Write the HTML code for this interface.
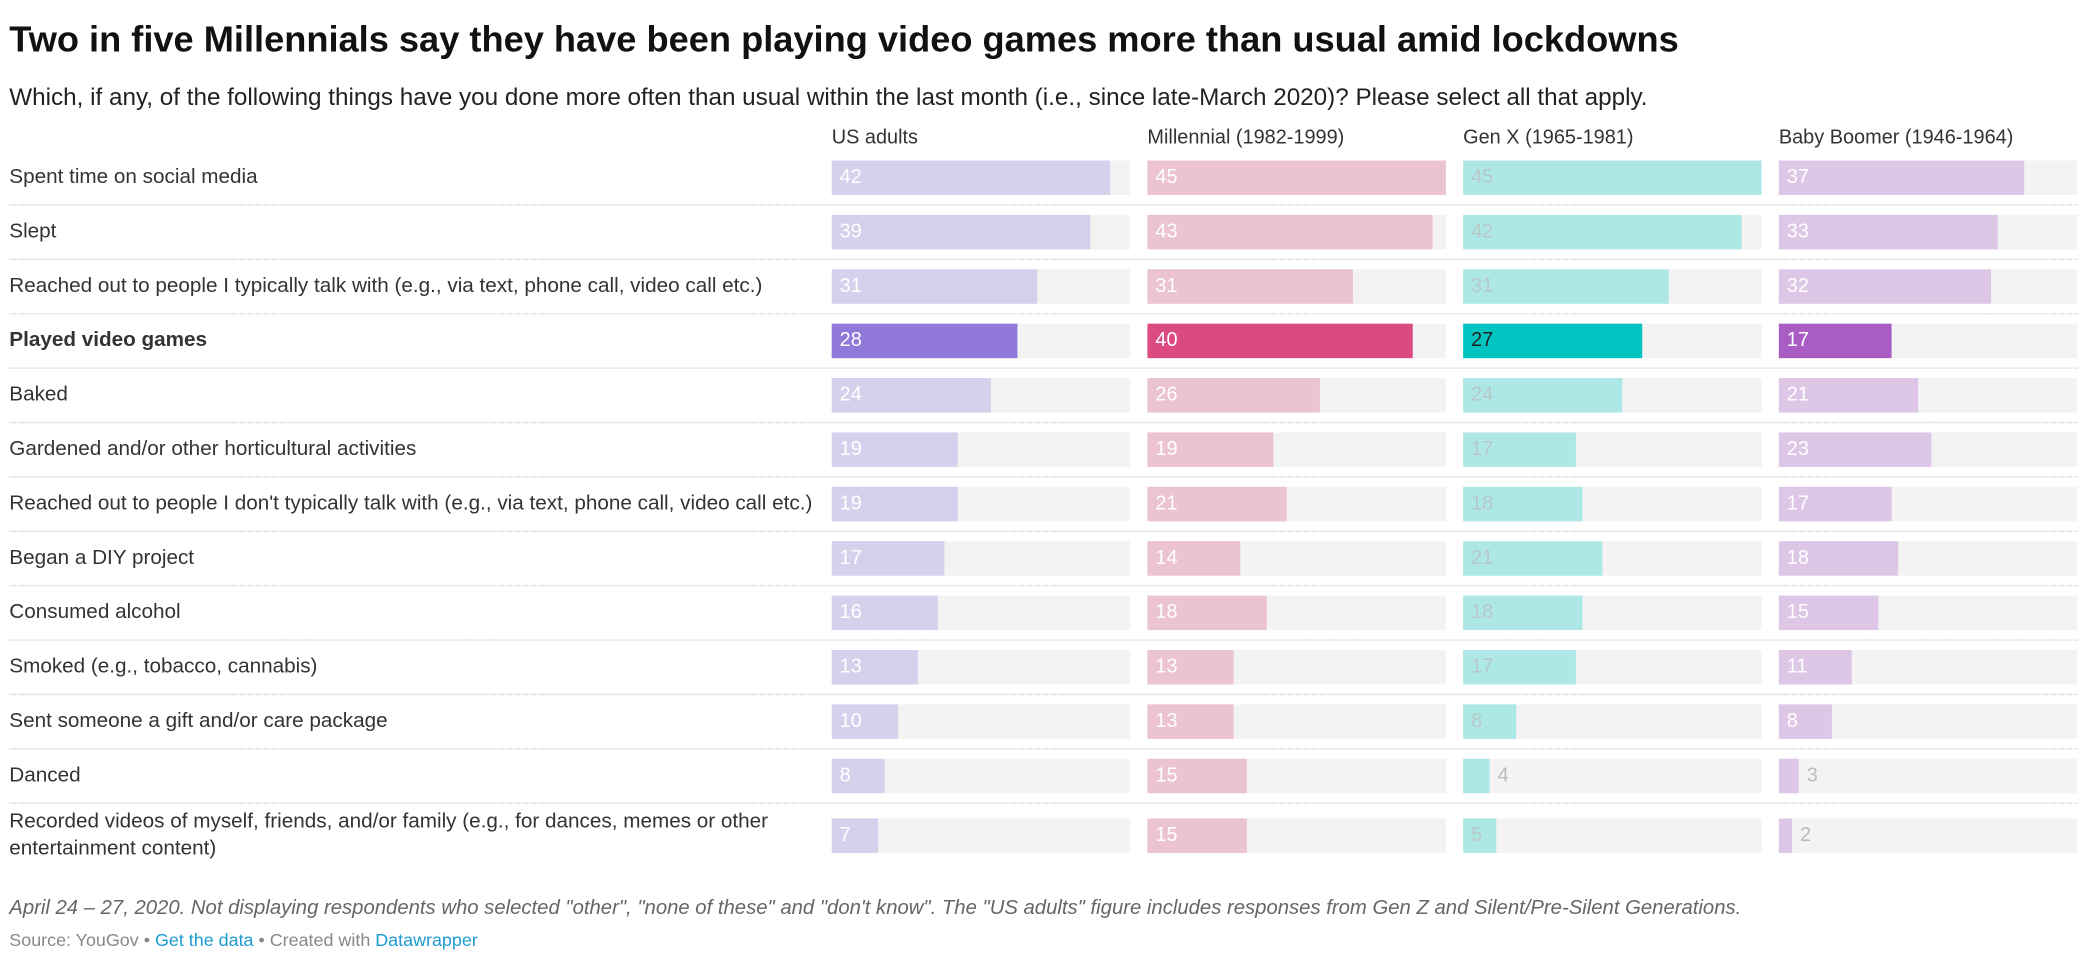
<!DOCTYPE html>
<html><head><meta charset="utf-8">
<style>
html,body{margin:0;padding:0;background:#fff;overflow:hidden}
body{width:2080px;height:955px;position:relative;font-family:"Liberation Sans",sans-serif}
#wrap{position:absolute;left:0;top:0;width:1568px;height:720px;transform:scale(1.3265);transform-origin:0 0}
.abs{position:absolute;white-space:nowrap}
#title{left:7px;top:14px;font-size:27.3px;font-weight:bold;color:#111}
#sub{left:7px;top:62px;font-size:18.3px;color:#222}
.hdr{top:95px;font-size:15px;color:#333}
.lbl{left:7px;font-size:15.6px;color:#333;line-height:20px}
.sep{left:7px;width:1559px;height:0;border-top:1px dotted #ccc}
.bg{background:#f3f3f3;height:26px}
.bar{height:26px}
.val{font-size:15px;line-height:26px}
#foot{left:7px;top:676px;font-size:15.3px;font-style:italic;color:#666}
#src{left:7px;top:701px;font-size:13.5px;color:#888}
#src a{color:#1d9bd1;text-decoration:none}
</style></head><body>
<div id="wrap">
<div id="title" class="abs">Two in five Millennials say they have been playing video games more than usual amid lockdowns</div>
<div id="sub" class="abs">Which, if any, of the following things have you done more often than usual within the last month (i.e., since late-March 2020)? Please select all that apply.</div>
<div id="rows"></div>
<div id="foot" class="abs">April 24 – 27, 2020. Not displaying respondents who selected "other", "none of these" and "don't know". The "US adults" figure includes responses from Gen Z and Silent/Pre-Silent Generations.</div>
<div id="src" class="abs">Source: YouGov • <a href="#">Get the data</a> • Created with <a href="#">Datawrapper</a></div>
</div>
<script>
const categories=["Spent time on social media","Slept","Reached out to people I typically talk with (e.g., via text, phone call, video call etc.)","Played video games","Baked","Gardened and/or other horticultural activities","Reached out to people I don't typically talk with (e.g., via text, phone call, video call etc.)","Began a DIY project","Consumed alcohol","Smoked (e.g., tobacco, cannabis)","Sent someone a gift and/or care package","Danced","Recorded videos of myself, friends, and/or family (e.g., for dances, memes or other entertainment content)"];
const seriesNames=["US adults","Millennial (1982-1999)","Gen X (1965-1981)","Baby Boomer (1946-1964)"];
const usAdults=[42,39,31,28,24,19,19,17,16,13,10,8,7];
const millennial=[45,43,31,40,26,19,21,14,18,13,13,15,15];
const genX=[45,42,31,27,24,17,18,21,18,17,8,4,5];
const boomer=[37,33,32,17,21,23,17,18,15,11,8,3,2];
const highlightIndex=3;
const series=[usAdults,millennial,genX,boomer];
const light=["#d6d0ec","#ecc3d3","#ade8e6","#dec7e6"];
const dark=["#9079d8","#db4a80","#00c4c2","#a85cc4"];
const lightText=["#fff","#fff","#b8c8c8","#fff"];
const darkText=["#fff","#fff","#222","#fff"];
const colX=[627,865,1103,1341], colW=225, maxV=45;
function xScale(v){return v/maxV*colW;}
function rowY(i){return i<12?134+41*i:630;}
const wrap=document.getElementById('wrap');
function mk(cls,name,css,txt){const d=document.createElement('div');d.className='abs '+cls;Object.assign(d.style,css);if(txt!==undefined)d.textContent=txt;


wrap.appendChild(d);return d;}
seriesNames.forEach((n,s)=>{mk('hdr','column-header',{left:colX[s]+'px'},n);});
categories.forEach((c,i)=>{
  const cy=rowY(i);
  const l=mk('lbl','row-label',{top:(i<12?cy-10:cy-20)+'px',whiteSpace:i<12?'nowrap':'normal',width:'600px'},c);
  if(i===highlightIndex)l.style.fontWeight='bold';
  if(i<12){mk('sep','row-separator',{top:(cy+20)+'px'});}
  series.forEach((arr,s)=>{
    const v=arr[i];
    mk('bg','bar-background',{left:colX[s]+'px',top:(cy-13)+'px',width:colW+'px'});
    const hi=i===highlightIndex;
    mk('bar','bar',{left:colX[s]+'px',top:(cy-13)+'px',width:xScale(v)+'px',background:hi?dark[s]:light[s]});
    const w=xScale(v);
    if(w>=24){
      mk('val','bar-value',{left:(colX[s]+6)+'px',top:(cy-13)+'px',color:hi?darkText[s]:lightText[s]},String(v));
    }else{
      mk('val','bar-value',{left:(colX[s]+w+6)+'px',top:(cy-13)+'px',color:'#bbb'},String(v));
    }
  });
});
</script>
</body></html>
